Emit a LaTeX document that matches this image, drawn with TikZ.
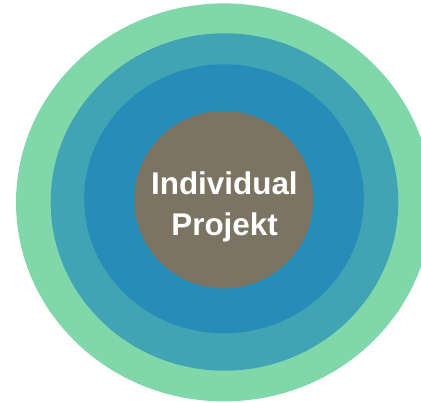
\documentclass[tikz,border=0pt]{standalone}
\usepackage{fontspec}
\setmainfont{Liberation Sans}
\definecolor{ringgreen}{RGB}{128,216,170}
\definecolor{ringteal}{RGB}{64,164,180}
\definecolor{ringblue}{RGB}{38,140,184}
\definecolor{corebrown}{RGB}{123,116,98}
\tikzset{
  ring/.style={draw=none},
  label/.style={text=white,font=\fontsize{31.4}{38}\selectfont\bfseries,anchor=base,inner sep=0pt}
}
\begin{document}
\begin{tikzpicture}[x=1pt,y=-1pt]
\useasboundingbox (0,0) rectangle (421,403);
\clip (0,0) rectangle (421,403);
\fill[ring,ringgreen] (224,202.4) ellipse [x radius=208,y radius=199];
\fill[ring,ringteal] (224.5,202) ellipse [x radius=173.8,y radius=168.7];
\fill[ring,ringblue] (224,198.8) ellipse [x radius=139.8,y radius=134.5];
\fill[ring,corebrown] (223.8,199.7) ellipse [x radius=89.5,y radius=88.7];
\node[label] (l1) at (224.4,194.3) {Individual};
\node[label] (l2) at (224.6,236) {Projekt};
\end{tikzpicture}
\end{document}
